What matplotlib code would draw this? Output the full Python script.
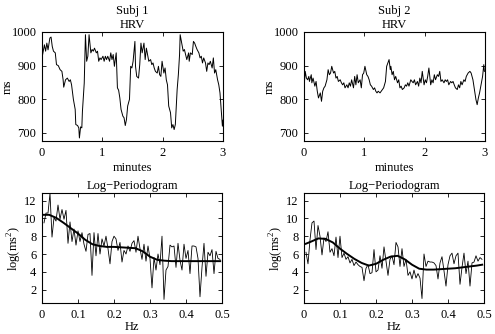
import numpy as np
import matplotlib
matplotlib.use("Agg")
import matplotlib.pyplot as plt

plt.rcParams['font.family'] = ['Liberation Serif', 'DejaVu Serif']
plt.rcParams['mathtext.fontset'] = 'custom'
plt.rcParams['mathtext.rm'] = 'Liberation Serif'
plt.rcParams['font.size'] = 9

# Subject 1 HRV (minutes, ms)
t1 = [0.00, 0.04, 0.06, 0.08, 0.10, 0.13, 0.15, 0.17, 0.19, 0.22, 0.24, 0.27, 0.30, 0.33,
      0.35, 0.36, 0.39, 0.42, 0.45, 0.47, 0.49, 0.52, 0.55, 0.56, 0.59, 0.61, 0.62, 0.64,
      0.66, 0.67, 0.70, 0.72, 0.74, 0.76, 0.78, 0.81, 0.83, 0.85, 0.87, 0.90, 0.92, 0.94,
      0.96, 0.98, 1.01, 1.03, 1.05, 1.07, 1.09, 1.12, 1.14, 1.16, 1.18, 1.20, 1.23, 1.25,
      1.27, 1.29, 1.31, 1.34, 1.36, 1.38, 1.40, 1.42, 1.45, 1.47, 1.49, 1.51, 1.54, 1.55,
      1.57, 1.60, 1.62, 1.64, 1.66, 1.69, 1.71, 1.73, 1.75, 1.77, 1.80, 1.82, 1.84, 1.86,
      1.88, 1.91, 1.93, 1.95, 1.97, 1.99, 2.02, 2.04, 2.06, 2.08, 2.10, 2.13, 2.15, 2.17,
      2.19, 2.21, 2.24, 2.26, 2.28, 2.29, 2.32, 2.34, 2.36, 2.38, 2.40, 2.43, 2.44, 2.46,
      2.49, 2.51, 2.53, 2.55, 2.57, 2.60, 2.62, 2.64, 2.66, 2.68, 2.71, 2.73, 2.75, 2.77,
      2.79, 2.82, 2.84, 2.86, 2.88, 2.91, 2.93, 2.95, 2.97, 2.99, 3.00]
hrv1 = [923, 962, 943, 967, 947, 982, 985, 957, 943, 938, 903, 900, 888, 883,
        858, 836, 858, 863, 853, 858, 843, 800, 770, 725, 722, 715, 685, 718,
        715, 764, 848, 992, 913, 928, 992, 938, 948, 943, 952, 938, 943, 913,
        923, 918, 928, 913, 928, 918, 928, 913, 938, 918, 933, 898, 938, 834,
        827, 804, 770, 750, 745, 722, 740, 780, 800, 898, 893, 913, 972, 898,
        868, 863, 903, 967, 938, 967, 918, 952, 933, 913, 918, 903, 908, 893,
        883, 878, 898, 873, 868, 913, 878, 893, 858, 843, 780, 760, 715, 725,
        710, 725, 829, 873, 933, 992, 962, 943, 948, 933, 918, 938, 913, 938,
        933, 972, 967, 957, 948, 938, 923, 928, 908, 923, 908, 883, 908, 903,
        913, 893, 923, 878, 888, 858, 843, 819, 769, 720, 738]

# Subject 2 HRV (minutes, ms)
t2 = [0.00, 0.02, 0.04, 0.06, 0.08, 0.09, 0.12, 0.13, 0.15, 0.18, 0.20, 0.22, 0.24, 0.27,
      0.29, 0.31, 0.33, 0.35, 0.38, 0.40, 0.42, 0.44, 0.46, 0.49, 0.51, 0.53, 0.55, 0.57,
      0.60, 0.62, 0.64, 0.66, 0.68, 0.71, 0.73, 0.75, 0.77, 0.79, 0.82, 0.84, 0.86, 0.88,
      0.90, 0.93, 0.95, 0.97, 0.99, 1.01, 1.04, 1.06, 1.08, 1.10, 1.12, 1.15, 1.17, 1.19,
      1.21, 1.23, 1.26, 1.28, 1.30, 1.32, 1.35, 1.37, 1.39, 1.41, 1.43, 1.44, 1.46, 1.48,
      1.50, 1.52, 1.55, 1.57, 1.59, 1.61, 1.63, 1.66, 1.68, 1.70, 1.72, 1.74, 1.77, 1.79,
      1.81, 1.83, 1.85, 1.88, 1.90, 1.92, 1.94, 1.96, 1.99, 2.01, 2.03, 2.05, 2.07, 2.10,
      2.12, 2.14, 2.16, 2.18, 2.21, 2.23, 2.25, 2.27, 2.29, 2.32, 2.34, 2.36, 2.38, 2.40,
      2.43, 2.45, 2.47, 2.49, 2.51, 2.54, 2.56, 2.58, 2.60, 2.62, 2.65, 2.67, 2.69, 2.72,
      2.75, 2.77, 2.80, 2.82, 2.85, 2.87, 2.89, 2.91, 2.93, 2.96, 2.98, 2.99]
hrv2 = [834, 883, 863, 858, 868, 853, 873, 849, 863, 839, 853, 824, 804, 819,
        794, 824, 834, 839, 858, 888, 873, 878, 898, 878, 883, 863, 868, 853,
        858, 849, 843, 849, 834, 843, 834, 849, 839, 858, 834, 868, 843, 873,
        849, 858, 834, 873, 878, 898, 873, 868, 858, 843, 839, 829, 834, 824,
        819, 824, 819, 824, 829, 834, 853, 898, 908, 918, 888, 898, 873, 883,
        858, 868, 849, 858, 834, 839, 829, 834, 843, 839, 849, 839, 858, 853,
        849, 858, 843, 853, 839, 863, 849, 883, 843, 858, 849, 868, 893, 843,
        858, 849, 873, 858, 873, 868, 883, 853, 858, 849, 858, 853, 858, 843,
        853, 849, 853, 843, 834, 829, 843, 834, 853, 843, 858, 853, 868, 878,
        883, 878, 858, 834, 799, 784, 804, 819, 839, 868, 903, 883]

# Log-periodograms at Fourier frequencies k/180 Hz
freq = np.arange(1, 90) / 180.0
lp1 = [9.5, 10.6, 10.6, 12.8, 7.9, 10.1, 9.7, 11.5, 9.9, 11.0,
       9.9, 10.9, 7.2, 9.6, 7.4, 8.8, 7.0, 8.6, 7.4, 8.4,
       7.1, 6.3, 8.2, 8.3, 3.6, 8.4, 5.8, 8.3, 6.0, 7.7,
       6.9, 8.0, 6.6, 4.9, 7.4, 8.0, 7.7, 6.4, 7.3, 5.1,
       6.4, 6.0, 6.9, 6.3, 7.2, 7.5, 6.2, 8.0, 6.6, 5.4,
       7.1, 5.2, 6.9, 5.5, 2.2, 5.6, 4.2, 6.0, 4.8, 8.0,
       0.9, 4.2, 4.6, 7.0, 6.8, 6.9, 4.5, 7.2, 5.3, 4.2,
       7.1, 5.5, 6.4, 3.8, 6.9, 6.9, 6.8, 5.5, 1.2, 4.5,
       7.2, 3.5, 6.2, 5.8, 6.5, 3.8, 6.3, 5.5, 5.4]
lp2 = [6.2, 4.9, 7.6, 9.5, 9.7, 6.5, 9.2, 8.0, 5.9, 7.8,
       7.4, 8.5, 6.2, 6.6, 5.8, 7.9, 5.6, 8.0, 5.6, 6.1,
       5.4, 5.7, 5.0, 5.4, 4.7, 5.1, 4.8, 4.6, 4.5, 3.0,
       4.4, 4.8, 3.8, 3.9, 6.5, 4.0, 4.2, 5.8, 4.4, 6.8,
       5.2, 3.6, 5.4, 5.8, 4.8, 7.3, 6.8, 4.6, 6.6, 4.6,
       5.4, 3.6, 4.0, 3.2, 4.2, 3.3, 3.8, 3.3, 1.0, 6.0,
       4.6, 5.2, 5.1, 5.1, 5.0, 4.7, 3.2, 5.0, 5.7, 4.1,
       2.4, 4.8, 5.8, 6.1, 4.9, 5.8, 6.1, 2.6, 4.5, 6.1,
       3.8, 5.2, 2.4, 5.0, 5.1, 5.8, 5.2, 5.6, 5.4]

# Smoothed log-spectra
fs = [0.005, 0.02, 0.04, 0.06, 0.08, 0.10, 0.12, 0.14, 0.16, 0.18, 0.20, 0.22, 0.24,
      0.26, 0.28, 0.30, 0.32, 0.34, 0.36, 0.38, 0.40, 0.42, 0.44, 0.46, 0.48, 0.495]
sm1 = [10.4, 10.4, 10.05, 9.5, 8.9, 8.3, 7.6, 7.1, 6.9, 6.8, 6.8, 6.75, 6.7,
       6.65, 6.3, 5.7, 5.35, 5.25, 5.2, 5.2, 5.2, 5.2, 5.2, 5.2, 5.2, 5.2]
sm2 = [7.15, 7.4, 7.75, 7.7, 7.3, 6.6, 6.0, 5.45, 5.0, 4.7, 4.9, 5.35, 5.7,
       5.8, 5.4, 4.8, 4.35, 4.25, 4.25, 4.3, 4.35, 4.4, 4.5, 4.6, 4.7, 4.8]

fig = plt.figure(figsize=(4.95, 3.34), dpi=100)
W, H = 495.0, 334.0
pos = {
    'tl': [42 / W, 1 - 141 / H, 181 / W, 109 / H],
    'tr': [304 / W, 1 - 141 / H, 181 / W, 109 / H],
    'bl': [42 / W, 1 - 303 / H, 180 / W, 110 / H],
    'br': [304 / W, 1 - 303 / H, 180 / W, 110 / H],
}


def style(ax):
    ax.tick_params(direction='in', top=True, right=True, length=3, width=0.6, pad=4)
    for s in ax.spines.values():
        s.set_linewidth(0.8)


for key, t, v, name in [('tl', t1, hrv1, 'Subj 1'), ('tr', t2, hrv2, 'Subj 2')]:
    ax = fig.add_axes(pos[key])
    ax.plot(t, v, color='black', lw=0.7)
    ax.set_xlim(0, 3)
    ax.set_ylim(676, 1000)
    ax.set_xticks([0, 1, 2, 3])
    ax.set_yticks([700, 800, 900, 1000])
    ax.set_title(name + '\nHRV', fontsize=9, pad=3, linespacing=1.15)
    ax.set_xlabel('minutes', va='center')
    ax.xaxis.set_label_coords(0.5, -0.245)
    ax.set_ylabel('ms', va='center')
    ax.yaxis.set_label_coords(-0.19, 0.5)
    style(ax)

for key, lp, sm in [('bl', lp1, sm1), ('br', lp2, sm2)]:
    ax = fig.add_axes(pos[key])
    ax.plot(freq, lp, color='black', lw=0.6)
    ax.plot(fs, sm, color='black', lw=1.4)
    ax.set_xlim(0, 0.5)
    ax.set_ylim(0.5, 12.85)
    ax.set_xticks([0, 0.1, 0.2, 0.3, 0.4, 0.5])
    ax.set_xticklabels(['0', '0.1', '0.2', '0.3', '0.4', '0.5'])
    ax.set_yticks([2, 4, 6, 8, 10, 12])
    ax.set_title('Log\u2212Periodogram', fontsize=9, pad=3)
    ax.set_xlabel('Hz', va='center')
    ax.xaxis.set_label_coords(0.5, -0.22)
    ax.set_ylabel('log(ms$^2$)', va='center')
    ax.yaxis.set_label_coords(-0.15, 0.5)
    style(ax)

fig.savefig('out.png', dpi=100)
